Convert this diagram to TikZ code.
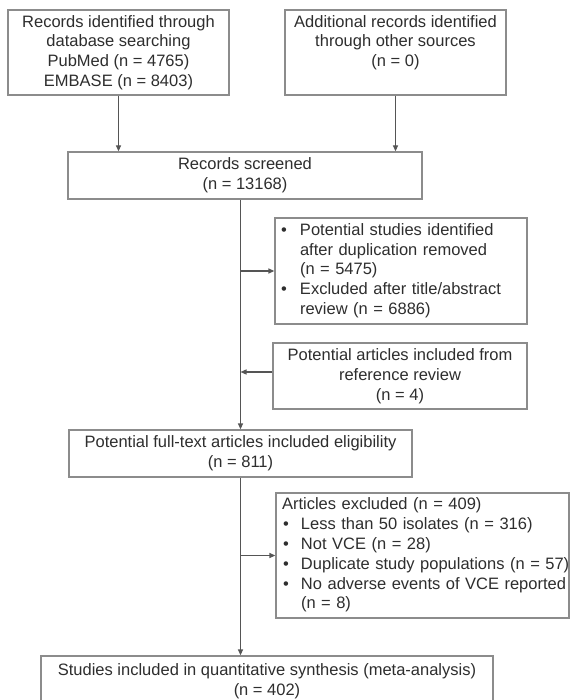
\documentclass[tikz,border=0pt]{standalone}
\usepackage{fontspec}
\setmainfont{Liberation Sans}
\usetikzlibrary{arrows.meta}
\definecolor{txt}{HTML}{2E2E2E}
\definecolor{frame}{HTML}{8C8C8C}
\definecolor{conn}{HTML}{555555}
\tikzset{
  box/.style={draw=frame, line width=1.3pt, rectangle, inner sep=0pt, align=center,
    text=txt, font=\fontsize{16.5}{19.8}\selectfont},
  listbox/.style={box, align=left, inner xsep=6pt},
  conn/.style={draw=conn, line width=1.3pt, -{Triangle[length=6pt,width=5pt]}},
  line/.style={draw=conn, line width=1.3pt}
}
\begin{document}
\begin{tikzpicture}[x=1pt,y=-1pt]
\clip (0,0) rectangle (571,700);
\fill[white] (0,0) rectangle (571,700);
\node[box, minimum width=221pt, minimum height=85pt] (b1) at (118.5,52.5)
  {Records identified through\\database searching\\PubMed (n = 4765)\\EMBASE (n = 8403)};
\node[box, minimum width=221pt, minimum height=85pt] (b2) at (395.5,52.5)
  {Additional records identified\\through other sources\\(n = 0)\\\phantom{(n = 0)}};
\node[box, minimum width=354pt, minimum height=47pt] (sc) at (245,175.5)
  {Records screened\\(n = 13168)};
\node[listbox, minimum width=252pt, minimum height=106pt, text width=240pt] (b3) at (401,271)
  {\begin{tabular}{@{}p{19pt}@{}l@{}}
  • & Potential studies identified\\
   & after duplication removed\\
   & (n = 5475)\\
  • & Excluded after title/abstract\\
   & review (n = 6886)
  \end{tabular}};
\node[box, minimum width=254pt, minimum height=66pt] (b4) at (400,376)
  {Potential articles included from\\reference review\\(n = 4)};
\node[box, minimum width=343pt, minimum height=47pt] (b5) at (240.5,453.5)
  {Potential full-text articles included eligibility\\(n = 811)};
\node[listbox, minimum width=293pt, minimum height=125pt, text width=281pt] (b6) at (422.5,555.5)
  {\begin{tabular}{@{}p{19pt}@{}l@{}}
  \multicolumn{2}{@{}l@{}}{Articles excluded (n = 409)}\\
  \hspace{1pt}• & Less than 50 isolates (n = 316)\\
  \hspace{1pt}• & Not VCE (n = 28)\\
  \hspace{1pt}• & Duplicate study populations (n = 57)\\
  \hspace{1pt}• & No adverse events of VCE reported\\
   & (n = 8)
  \end{tabular}};
\node[box, minimum width=452pt, minimum height=50pt] (b7) at (267,681)
  {Studies included in quantitative synthesis (meta-analysis)\\(n = 402)};
\draw[conn] (b1.south) -- (b1.south |- sc.north);
\draw[conn] (b2.south) -- (b2.south |- sc.north);
\draw[conn] (b5.north |- sc.south) -- (b5.north);
\draw[conn] (b5.north |- b3.west) -- (b3.west);
\draw[conn] ([yshift=4pt]b4.west) -- ([yshift=4pt]b4.west -| b5.north);
\draw[conn] (b5.south) -- (b5.south |- b7.north);
\draw[conn] (b5.south |- b6.west) -- (b6.west);
\end{tikzpicture}
\end{document}
